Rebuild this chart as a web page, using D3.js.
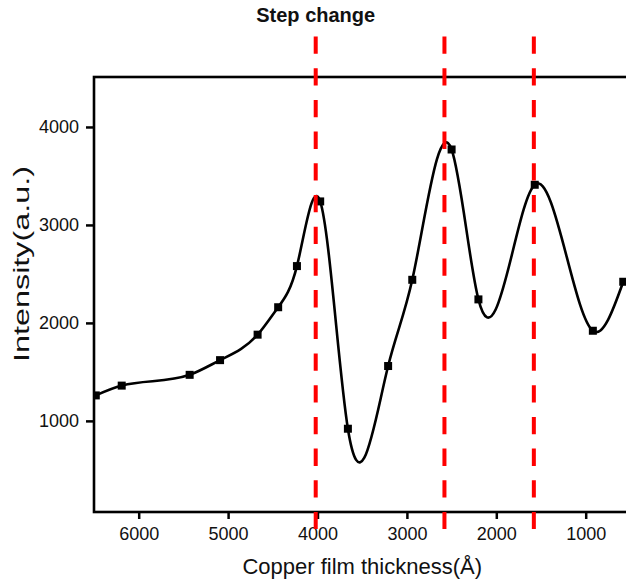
<!DOCTYPE html>
<html>
<head>
<meta charset="utf-8">
<script src="https://cdn.jsdelivr.net/npm/d3@7"></script>
<style>
  html, body { margin: 0; padding: 0; background: #fff; }
  svg text { font-family: "Liberation Sans", Arial, sans-serif; fill: #111; }
</style>
</head>
<body>
<div id="chart"></div>
<script>
// measured points (thickness in Å, intensity in a.u.)
const thickness = [6480, 6190, 5430, 5090, 4670, 4440, 4230, 3970, 3660, 3210, 2940, 2500, 2200, 1570, 920, 580];
const intensity = [1260, 1360, 1470, 1620, 1880, 2160, 2580, 3240, 920, 1560, 2440, 3770, 2240, 3410, 1920, 2420];
const stepLines = [4020, 2580, 1580];
const xTicks = [6000, 5000, 4000, 3000, 2000, 1000];
const yTicks = [1000, 2000, 3000, 4000];

const width = 626, height = 581;
const plotLeft = 94, plotRight = 630.4, plotTop = 77, plotBottom = 512;

const svg = d3.select('#chart').append('svg')
  .attr('width', width)
  .attr('height', height);

const x = d3.scaleLinear().domain([6500, 500]).range([plotLeft, plotRight]);
const y = d3.scaleLinear().domain([70, 4510]).range([plotBottom, plotTop]);

// natural cubic spline y(x), drawn as exact bezier segments
function curveSplineX(context) {
  return {
    areaStart() {}, areaEnd() {},
    lineStart() { this._x = []; this._y = []; },
    point(px, py) { this._x.push(+px); this._y.push(+py); },
    lineEnd() {
      const xs = this._x, ys = this._y, n = xs.length - 1;
      if (n < 1) return;
      const h = d3.range(n).map(i => xs[i + 1] - xs[i]);
      const M = new Array(n + 1).fill(0);
      // tridiagonal solve for second derivatives
      const a = [], b = [], c = [], d = [];
      for (let i = 1; i < n; i++) {
        a.push(h[i - 1]);
        b.push(2 * (h[i - 1] + h[i]));
        c.push(h[i]);
        d.push(6 * ((ys[i + 1] - ys[i]) / h[i] - (ys[i] - ys[i - 1]) / h[i - 1]));
      }
      const m = b.length;
      for (let i = 1; i < m; i++) {
        const w = a[i] / b[i - 1];
        b[i] -= w * c[i - 1];
        d[i] -= w * d[i - 1];
      }
      for (let i = m - 1; i >= 0; i--) {
        M[i + 1] = (d[i] - (i < m - 1 ? c[i] * M[i + 2] : 0)) / b[i];
      }
      context.moveTo(xs[0], ys[0]);
      for (let i = 0; i < n; i++) {
        const s = (ys[i + 1] - ys[i]) / h[i];
        const m0 = s - h[i] * (2 * M[i] + M[i + 1]) / 6;
        const m1 = s + h[i] * (M[i] + 2 * M[i + 1]) / 6;
        context.bezierCurveTo(
          xs[i] + h[i] / 3, ys[i] + m0 * h[i] / 3,
          xs[i + 1] - h[i] / 3, ys[i + 1] - m1 * h[i] / 3,
          xs[i + 1], ys[i + 1]);
      }
    }
  };
}

svg.append('defs').append('clipPath').attr('id', 'plotClip')
  .append('rect')
  .attr('x', plotLeft).attr('y', plotTop)
  .attr('width', plotRight - plotLeft).attr('height', plotBottom - plotTop);

const points = thickness.map((t, i) => ({ t, v: intensity[i] }));

const line = d3.line()
  .x(d => x(d.t))
  .y(d => y(d.v))
  .curve(curveSplineX);

const plot = svg.append('g').attr('clip-path', 'url(#plotClip)');

plot.append('path')
  .datum(points)
  .attr('d', line)
  .attr('fill', 'none')
  .attr('stroke', '#000')
  .attr('stroke-width', 2.6);

plot.selectAll('rect.pt')
  .data(points)
  .enter()
  .append('rect')
  .attr('class', 'pt')
  .attr('x', d => x(d.t) - 4)
  .attr('y', d => y(d.v) - 4)
  .attr('width', 8)
  .attr('height', 8)
  .attr('fill', '#000');

// axes
const xAxis = svg.append('g')
  .attr('transform', `translate(0,${plotBottom})`)
  .call(d3.axisBottom(x).tickValues(xTicks).tickFormat(d3.format('d'))
    .tickSizeInner(7).tickSizeOuter(0).tickPadding(8));
const yAxis = svg.append('g')
  .attr('transform', `translate(${plotLeft},0)`)
  .call(d3.axisLeft(y).tickValues(yTicks).tickFormat(d3.format('d'))
    .tickSizeInner(8).tickSizeOuter(0).tickPadding(7));

[xAxis, yAxis].forEach(g => {
  g.select('.domain').remove();
  g.selectAll('.tick line').attr('stroke', '#000').attr('stroke-width', 2.5);
  g.selectAll('.tick text')
    .attr('font-size', '18px')
    .attr('font-family', '"Liberation Sans", Arial, sans-serif')
    .attr('fill', '#111');
});

svg.append('rect')
  .attr('x', plotLeft).attr('y', plotTop)
  .attr('width', plotRight - plotLeft).attr('height', plotBottom - plotTop)
  .attr('fill', 'none')
  .attr('stroke', '#000')
  .attr('stroke-width', 2.6);

// step change markers
svg.selectAll('line.step')
  .data(stepLines)
  .enter()
  .append('line')
  .attr('class', 'step')
  .attr('x1', d => x(d)).attr('x2', d => x(d))
  .attr('y1', 36.5).attr('y2', 529)
  .attr('stroke', '#ff0000')
  .attr('stroke-width', 4)
  .attr('stroke-dasharray', '17.3,14.4');

svg.append('text')
  .attr('x', x(stepLines[0]))
  .attr('y', 22)
  .attr('text-anchor', 'middle')
  .attr('font-size', '20px')
  .attr('font-weight', 'bold')
  .text('Step change');

svg.append('text')
  .attr('x', (plotLeft + plotRight) / 2)
  .attr('y', 574)
  .attr('text-anchor', 'middle')
  .attr('font-size', '22px')
  .text('Copper film thickness(Å)');

svg.append('text')
  .attr('transform', `translate(29,264) rotate(-90)`)
  .attr('text-anchor', 'middle')
  .attr('font-size', '22px')
  .attr('textLength', 196)
  .attr('lengthAdjust', 'spacingAndGlyphs')
  .text('Intensity(a.u.)');
</script>
</body>
</html>
